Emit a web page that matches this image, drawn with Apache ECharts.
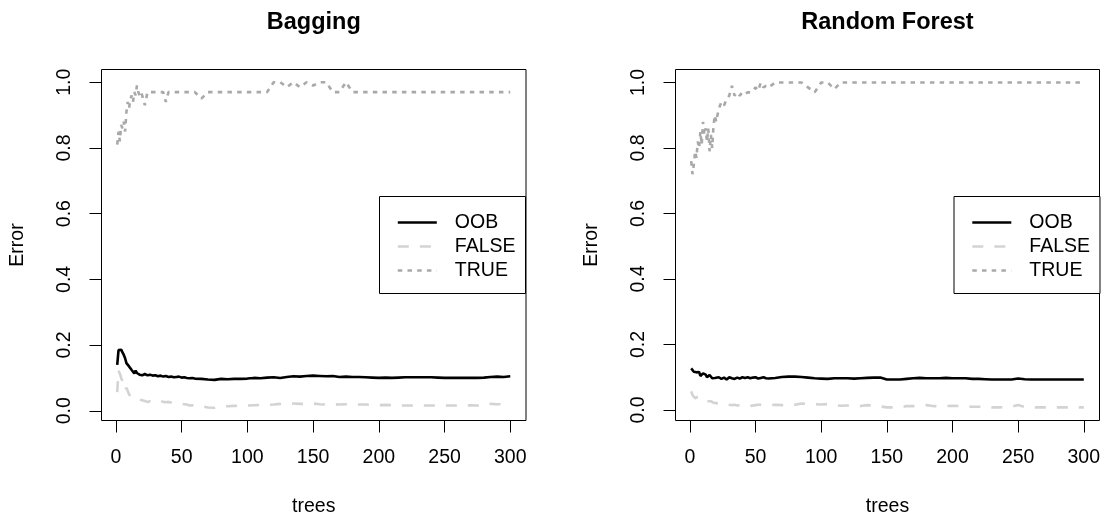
<!DOCTYPE html>
<html>
<head>
<meta charset="utf-8">
<script src="https://cdn.jsdelivr.net/npm/echarts@6/dist/echarts.min.js"></script>
<style>
  html, body { margin: 0; padding: 0; background: #fff; }
  #myChart { width: 1104px; height: 517px; }
</style>
</head>
<body>
<div id="myChart"></div>
<script>
// number of trees (shared x values of both panels)
var trees = [
  1, 2, 3, 4, 5, 6, 7, 8, 9, 10, 11, 12, 13, 14, 15, 16, 17, 18, 19, 20,
  22, 24, 26, 28, 30, 32, 34, 36, 38, 40, 42, 44, 46, 48, 50, 52, 54, 56, 58, 60,
  65, 70, 75, 80, 85, 90, 95, 100, 105, 110,
  115, 120, 125, 130, 135, 140, 145, 150, 155, 160,
  165, 170, 175, 180, 185, 190, 195, 200, 205, 210,
  215, 220, 225, 230, 235, 240, 245, 250, 255, 260,
  265, 270, 275, 280, 285, 290, 295, 300
]

// Bagging
var bagOOB = [
  0.14, 0.185, 0.18, 0.186, 0.178, 0.17, 0.16, 0.145, 0.15, 0.135, 0.138, 0.124, 0.128, 0.114, 0.122, 0.115, 0.113, 0.11, 0.113, 0.108,
  0.112, 0.108, 0.11, 0.107, 0.108, 0.105, 0.107, 0.104, 0.106, 0.103, 0.104, 0.102, 0.103, 0.104, 0.101, 0.102, 0.1, 0.099, 0.1, 0.098,
  0.097, 0.095, 0.094, 0.097, 0.096, 0.097, 0.097, 0.098, 0.1, 0.099,
  0.101, 0.102, 0.1, 0.103, 0.105, 0.104, 0.106, 0.107, 0.106, 0.105,
  0.106, 0.103, 0.104, 0.103, 0.103, 0.102, 0.101, 0.1, 0.101, 0.1,
  0.101, 0.102, 0.102, 0.102, 0.102, 0.102, 0.101, 0.1, 0.1, 0.1,
  0.1, 0.1, 0.1, 0.101, 0.103, 0.104, 0.103, 0.105
]
var bagFALSE = [
  0.057, 0.123, 0.113, 0.1, 0.09, 0.083, 0.062, 0.07, 0.067, 0.05, 0.045, 0.039, 0.042, 0.036, 0.034, 0.036, 0.032, 0.034, 0.031, 0.032,
  0.03, 0.027, 0.029, 0.027, 0.03, 0.032, 0.03, 0.027, 0.026, 0.027, 0.025, 0.023, 0.024, 0.022, 0.021, 0.02, 0.019, 0.016, 0.017, 0.016,
  0.014, 0.01, 0.009, 0.013, 0.014, 0.015, 0.016, 0.016, 0.017, 0.018,
  0.018, 0.019, 0.021, 0.023, 0.022, 0.021, 0.021, 0.022, 0.02, 0.019,
  0.02, 0.019, 0.02, 0.019, 0.019, 0.019, 0.018, 0.017, 0.018, 0.017,
  0.016, 0.016, 0.016, 0.016, 0.016, 0.016, 0.016, 0.016, 0.016, 0.016,
  0.016, 0.017, 0.016, 0.015, 0.021, 0.02, 0.02, 0.023
]
var bagTRUE = [
  0.81, 0.85, 0.82, 0.87, 0.86, 0.88, 0.85, 0.91, 0.94, 0.92, 0.95, 0.96, 0.94, 0.97, 0.96, 0.99, 0.97, 0.96, 0.97, 0.96,
  0.93, 0.97, 0.97, 0.97, 0.97, 0.97, 0.97, 0.97, 0.94, 0.97, 0.97, 0.97, 0.97, 0.97, 0.97, 0.97, 0.97, 0.97, 0.97, 0.97,
  0.95, 0.97, 0.97, 0.97, 0.97, 0.97, 0.97, 0.97, 0.97, 0.97,
  0.97, 1.0, 1.0, 0.985, 1.0, 0.985, 1.0, 0.99, 1.0, 1.0,
  0.97, 0.97, 1.0, 0.97, 0.97, 0.97, 0.97, 0.97, 0.97, 0.97,
  0.97, 0.97, 0.97, 0.97, 0.97, 0.97, 0.97, 0.97, 0.97, 0.97,
  0.97, 0.97, 0.97, 0.97, 0.97, 0.97, 0.97, 0.97
]

// Random Forest
var rfOOB = [
  0.127, 0.122, 0.117, 0.122, 0.115, 0.112, 0.116, 0.104, 0.11, 0.112, 0.106, 0.108, 0.1, 0.104, 0.107, 0.103, 0.097, 0.091, 0.098, 0.102,
  0.1, 0.095, 0.099, 0.093, 0.1, 0.097, 0.095, 0.099, 0.096, 0.1, 0.098, 0.1, 0.097, 0.099, 0.1, 0.096, 0.098, 0.1, 0.097, 0.096,
  0.098, 0.101, 0.102, 0.102, 0.101, 0.099, 0.097, 0.096, 0.095, 0.097,
  0.097, 0.097, 0.096, 0.097, 0.098, 0.099, 0.099, 0.093, 0.093, 0.093,
  0.095, 0.097, 0.098, 0.097, 0.097, 0.097, 0.098, 0.097, 0.097, 0.097,
  0.095, 0.095, 0.094, 0.093, 0.093, 0.093, 0.093, 0.096, 0.094, 0.093,
  0.093, 0.093, 0.093, 0.093, 0.093, 0.093, 0.093, 0.093
]
var rfFALSE = [
  0.057, 0.046, 0.05, 0.036, 0.042, 0.04, 0.035, 0.039, 0.033, 0.03, 0.032, 0.028, 0.03, 0.027, 0.025, 0.027, 0.023, 0.022, 0.02, 0.021,
  0.02, 0.018, 0.017, 0.018, 0.016, 0.015, 0.016, 0.014, 0.015, 0.013, 0.012, 0.013, 0.012, 0.014, 0.015, 0.016, 0.016, 0.015, 0.016, 0.015,
  0.016, 0.015, 0.015, 0.016, 0.02, 0.018, 0.018, 0.017, 0.018, 0.015,
  0.013, 0.014, 0.013, 0.012, 0.015, 0.013, 0.011, 0.008, 0.008, 0.008,
  0.012, 0.012, 0.013, 0.015, 0.012, 0.012, 0.012, 0.013, 0.012, 0.011,
  0.01, 0.01, 0.01, 0.008, 0.008, 0.009, 0.01, 0.015, 0.009, 0.008,
  0.008, 0.008, 0.008, 0.008, 0.008, 0.008, 0.008, 0.008
]
var rfTRUE = [
  0.76, 0.72, 0.75, 0.79, 0.77, 0.82, 0.8, 0.85, 0.81, 0.88, 0.84, 0.86, 0.82, 0.86, 0.79, 0.84, 0.8, 0.87, 0.9, 0.88,
  0.92, 0.94, 0.93, 0.95, 0.96, 0.99, 0.96, 0.97, 0.96, 0.97, 0.965, 0.97, 0.97, 0.975, 0.985, 0.975, 1.0, 0.985, 0.99, 0.985,
  1.0, 1.0, 1.0, 1.0, 1.0, 0.985, 0.97, 1.0, 1.0, 0.98,
  1.0, 1.0, 1.0, 1.0, 1.0, 1.0, 1.0, 1.0, 1.0, 1.0,
  1.0, 1.0, 1.0, 1.0, 1.0, 1.0, 1.0, 1.0, 1.0, 1.0,
  1.0, 1.0, 1.0, 1.0, 1.0, 1.0, 1.0, 1.0, 1.0, 1.0,
  1.0, 1.0, 1.0, 1.0, 1.0, 1.0, 1.0, 1.0
]

var xTicks = [0, 50, 100, 150, 200, 250, 300]
var yTicks = [0, 0.2, 0.4, 0.6, 0.8, 1.0]
var seriesNames = ['OOB', 'FALSE', 'TRUE']

var FONT = 'Liberation Sans, Arial, Helvetica, sans-serif'
var lineStyles = [
  { color: '#000000', width: 2.6, type: 'solid' },
  { color: '#d3d3d3', width: 2.6, type: [11, 11] },
  { color: '#a9a9a9', width: 2.6, type: [4.5, 5.2] }
]

function pairs(ys) {
  return trees.map(function (t, i) { return [t, ys[i]] })
}

function makeX(idx, name) {
  return {
    type: 'value',
    gridIndex: idx,
    min: -10.96,
    max: 311.96,
    name: name,
    nameLocation: 'middle',
    nameGap: 76,
    nameTextStyle: { fontSize: 19.5, color: '#000', fontFamily: FONT },
    axisLine: { show: false, onZero: false },
    axisTick: { show: true, length: 12, customValues: xTicks, lineStyle: { color: '#000', width: 1 } },
    axisLabel: { customValues: xTicks, margin: 27, fontSize: 19.5, color: '#000', fontFamily: FONT },
    splitLine: { show: false }
  }
}

function makeY(idx, min, max) {
  return {
    type: 'value',
    gridIndex: idx,
    min: min,
    max: max,
    name: 'Error',
    nameLocation: 'middle',
    nameGap: 74,
    nameRotate: 90,
    nameTextStyle: { fontSize: 19.5, color: '#000', fontFamily: FONT },
    axisLine: { show: false, onZero: false },
    axisTick: { show: true, length: 12, customValues: yTicks, lineStyle: { color: '#000', width: 1 } },
    axisLabel: {
      customValues: yTicks,
      rotate: 90,
      margin: 27,
      fontSize: 19.5,
      color: '#000',
      fontFamily: FONT,
      formatter: function (v) { return v.toFixed(1) }
    },
    splitLine: { show: false }
  }
}

function makeSeries(idx, lists) {
  return lists.map(function (ys, k) {
    return {
      name: seriesNames[k],
      type: 'line',
      xAxisIndex: idx,
      yAxisIndex: idx,
      data: pairs(ys),
      symbol: 'none',
      lineStyle: lineStyles[k],
      color: lineStyles[k].color,
      z: 3 + k
    }
  })
}

function makeLegend(left) {
  return {
    data: seriesNames,
    orient: 'vertical',
    left: left,
    top: 196.5,
    padding: [16, 10, 13, 17],
    itemWidth: 39,
    itemHeight: 14,
    itemGap: 4,
    backgroundColor: '#fff',
    borderColor: '#000',
    borderWidth: 1,
    borderRadius: 0,
    itemStyle: { opacity: 0 },
    lineStyle: { width: 2.6 },
    textStyle: { fontSize: 19.5, color: '#000', fontFamily: FONT, lineHeight: 20, padding: [0, 0, 0, 13] },
    selectedMode: false
  }
}

var myChart = echarts.init(document.getElementById('myChart'))
var option = {
  animation: false,
  backgroundColor: '#fff',
  title: [
    { text: 'Bagging', left: 313.8, top: 11, padding: 0, textAlign: 'center',
      textStyle: { fontSize: 23.5, fontWeight: 'bold', color: '#000', fontFamily: FONT } },
    { text: 'Random Forest', left: 887.5, top: 11, padding: 0, textAlign: 'center',
      textStyle: { fontSize: 23.5, fontWeight: 'bold', color: '#000', fontFamily: FONT } }
  ],
  grid: [
    { left: 101.5, top: 69.5, width: 424.5, height: 351, outerBoundsMode: 'none',
      show: true, borderColor: '#000', borderWidth: 1, backgroundColor: 'transparent' },
    { left: 675.5, top: 69.5, width: 424, height: 351, outerBoundsMode: 'none',
      show: true, borderColor: '#000', borderWidth: 1, backgroundColor: 'transparent' }
  ],
  legend: [makeLegend(379.5), makeLegend(954)],
  xAxis: [makeX(0, 'trees'), makeX(1, 'trees')],
  yAxis: [makeY(0, -0.0296, 1.0388), makeY(1, -0.032, 1.0397)],
  series: makeSeries(0, [bagOOB, bagFALSE, bagTRUE]).concat(makeSeries(1, [rfOOB, rfFALSE, rfTRUE]))
}
myChart.setOption(option)
</script>
</body>
</html>
